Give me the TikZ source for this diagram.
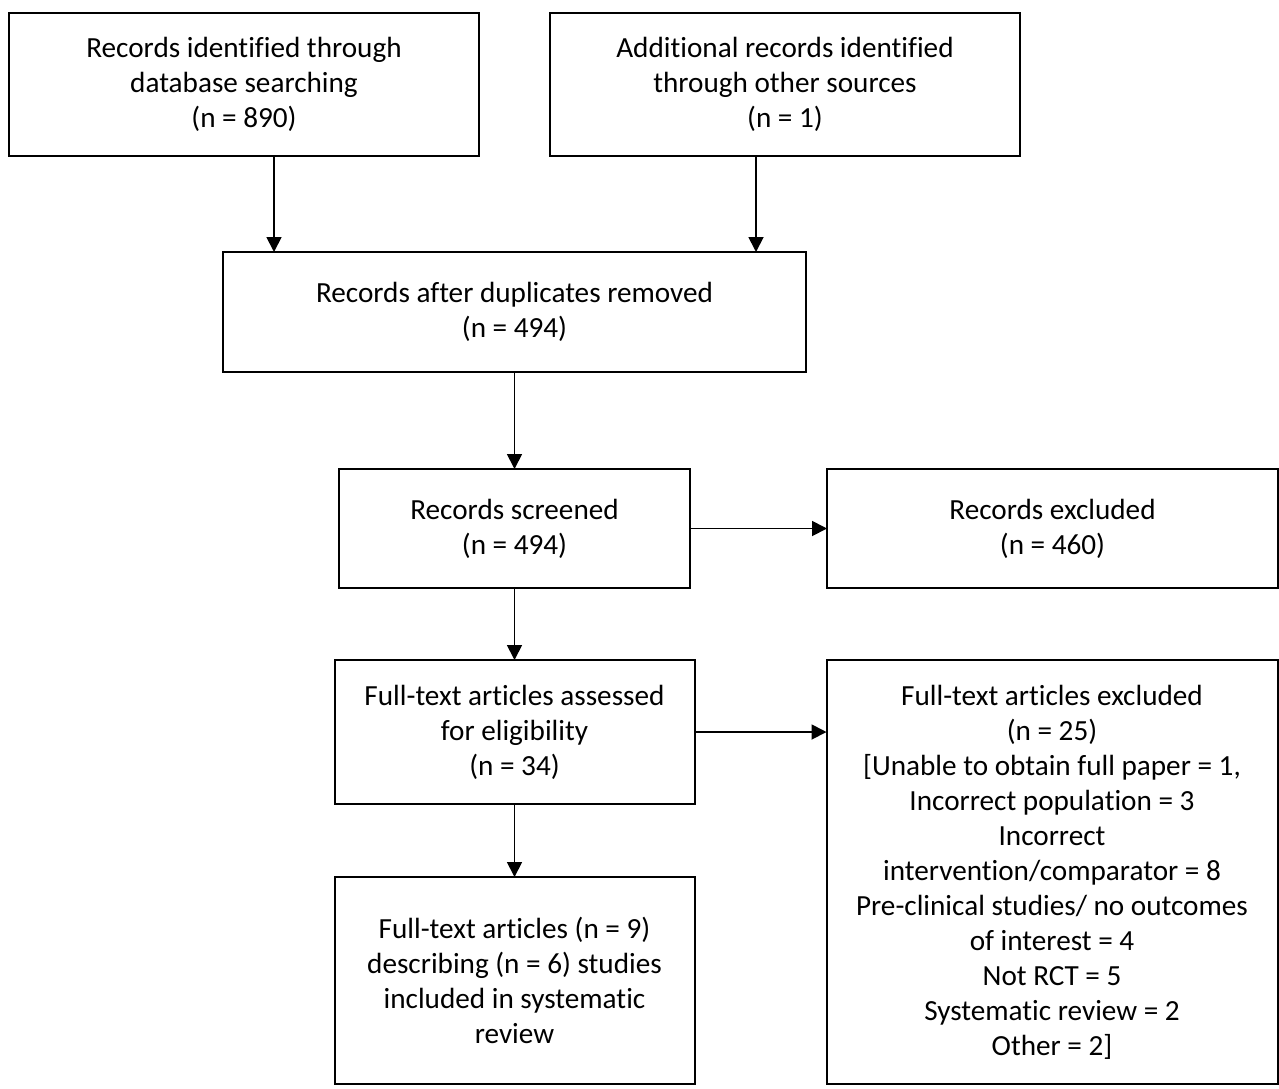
\documentclass[tikz,border=0pt]{standalone}
\usepackage{fontspec}
\setmainfont{Carlito}[Ligatures=CommonOff]
\usepackage{tikz}
\usetikzlibrary{arrows.meta,positioning,calc}
\usepackage{xcolor}
\definecolor{dark}{HTML}{000000}
\tikzset{
  box/.style={draw=dark, line width=1pt, align=center, fill=white, inner sep=0pt, outer sep=0pt,
    font=\fontsize{14.6pt}{17.5pt}\selectfont},
  topbox/.style={box, minimum width=235pt, minimum height=71.5pt},
  midbox/.style={box, minimum width=180pt},
  sidebox/.style={box, minimum width=225.5pt},
  arrow/.style={-{Triangle[length=7.5pt, width=7.5pt]}, line width=0.9pt, draw=dark}
}
\begin{document}
\begin{tikzpicture}
  \useasboundingbox (0,0) rectangle (639.5pt,-544pt);
  \node[topbox] (idb) at (122pt,-42.25pt) {Records identified through\\database searching\\(n = 890)};
  \node[topbox, right=35.5pt of idb] (oth) {Additional records identified\\through other sources\\(n = 1)};
  \coordinate (mid) at ($(idb.south)!0.5!(oth.south)$);
  \node[box, minimum width=291.5pt, minimum height=60pt, below=48pt of mid] (dup) {Records after duplicates removed\\(n = 494)};
  \node[box, minimum width=175.5pt, minimum height=59.5pt, below=48.5pt of dup] (scr) {Records screened\\(n = 494)};
  \node[sidebox, minimum height=59.5pt, right=68.5pt of scr] (rexc) {Records excluded\\(n = 460)};
  \node[midbox, minimum height=72pt, below=36pt of scr] (ft) {Full-text articles assessed\\for eligibility\\(n = 34)};
  \node[sidebox, minimum height=212pt, right=66pt of ft.north east, anchor=north west] (ftexc) {Full-text articles excluded\\(n = 25)\\{[}Unable to obtain full paper = 1,\\Incorrect population = 3\\Incorrect\\intervention/comparator = 8\\Pre-clinical studies/ no outcomes\\of interest = 4\\Not RCT = 5\\Systematic review = 2\\Other = 2{]}};
  \node[midbox, minimum height=103.5pt, below=36.5pt of ft] (incl) {Full-text articles (n = 9)\\describing (n = 6) studies\\included in systematic\\review};
  \draw[arrow] ([xshift=15pt]idb.south) -- ([xshift=15pt]idb.south |- dup.north);
  \draw[arrow] ([xshift=-14.5pt]oth.south) -- ([xshift=-14.5pt]oth.south |- dup.north);
  \draw[arrow] (dup) -- (scr);
  \draw[arrow] (scr) -- (rexc);
  \draw[arrow] (scr) -- (ft);
  \draw[arrow] (ft.east) -- (ft.east -| ftexc.west);
  \draw[arrow] (ft) -- (incl);
\end{tikzpicture}
\end{document}
